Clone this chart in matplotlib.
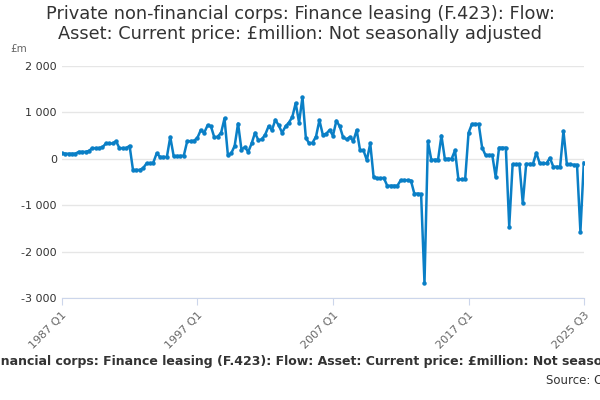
import matplotlib
matplotlib.use("Agg")
import matplotlib.pyplot as plt
import numpy as np

start_year = 1987
values = [
    120,110,110,110, 110,150,150,150, 170,230,230,230, 250,330,330,330, 380,230,230,230,
    280,-240,-240,-240, -200,-100,-100,-80, 120,40,40,40, 470,60,60,60, 70,380,380,390,
    450,620,560,720, 700,460,480,560, 870,80,120,280, 760,200,250,150, 330,560,400,420,
    520,700,620,840, 720,560,700,780, 900,1200,780,1330, 450,330,350,480, 830,520,540,620,
    500,820,700,460, 420,470,380,620, 180,180,-30,330, -400,-420,-420,-410, -580,-580,-580,-580,
    -460,-460,-460,-470, -750,-750,-760,-2680, 380,-20,-20,-20, 500,0,0,0, 180,-440,-440,-440,
    560,750,750,750, 240,80,80,80, -390,240,240,240, -1460,-120,-120,-120, -960,-110,-110,-110,
    130,-100,-100,-100, 20,-170,-170,-180, 600,-120,-120,-130, -130,-1570,-80,
]
labels = [f"{start_year + i // 4} Q{i % 4 + 1}" for i in range(len(values))]
tick_labels = ["1987 Q1", "1997 Q1", "2007 Q1", "2017 Q1", "2025 Q3"]
yticks = [2000, 1000, 0, -1000, -2000, -3000]

fig = plt.figure(figsize=(6, 4), dpi=100)
ax = fig.add_axes([0.103, 0.255, 0.87, 0.58])
x = np.arange(len(values))
ax.plot(x, values, color="#0a7fc6", lw=1.8, marker="o", ms=2.2)
ax.set_xlim(0, len(values) - 1)
ax.set_ylim(-3000, 2000)
ax.set_yticks(yticks)
ax.set_yticklabels([f"{v:,}".replace(",", " ") for v in yticks], fontsize=8, color="#333")
ax.set_xticks([labels.index(t) for t in tick_labels])
ax.set_xticklabels(tick_labels, rotation=45, ha="right", rotation_mode="anchor", fontsize=8, color="#666")
ax.grid(axis="y", color="#e6e6e6", lw=1)
ax.set_axisbelow(True)
for s in ["top", "right", "left"]:
    ax.spines[s].set_visible(False)
ax.spines["bottom"].set_color("#ccd6eb")
ax.tick_params(axis="y", length=0)
ax.tick_params(axis="x", color="#ccd6eb", length=5)
fig.text(0.5, 0.94, "Private non-financial corps: Finance leasing (F.423): Flow:\nAsset: Current price: £million: Not seasonally adjusted",
         ha="center", va="center", fontsize=12.8, color="#333", linespacing=1.15)
fig.text(0.017, 0.87, "£m", fontsize=7.5, color="#666")
fig.text(0.505, 0.095, "Private non-financial corps: Finance leasing (F.423): Flow: Asset: Current price: £million: Not seasonally adjusted",
         ha="center", va="center", fontsize=9, color="#333", fontweight="bold")
fig.text(0.91, 0.05, "Source: ONS", ha="left", va="center", fontsize=8.5, color="#333")
fig.savefig("out.png")
